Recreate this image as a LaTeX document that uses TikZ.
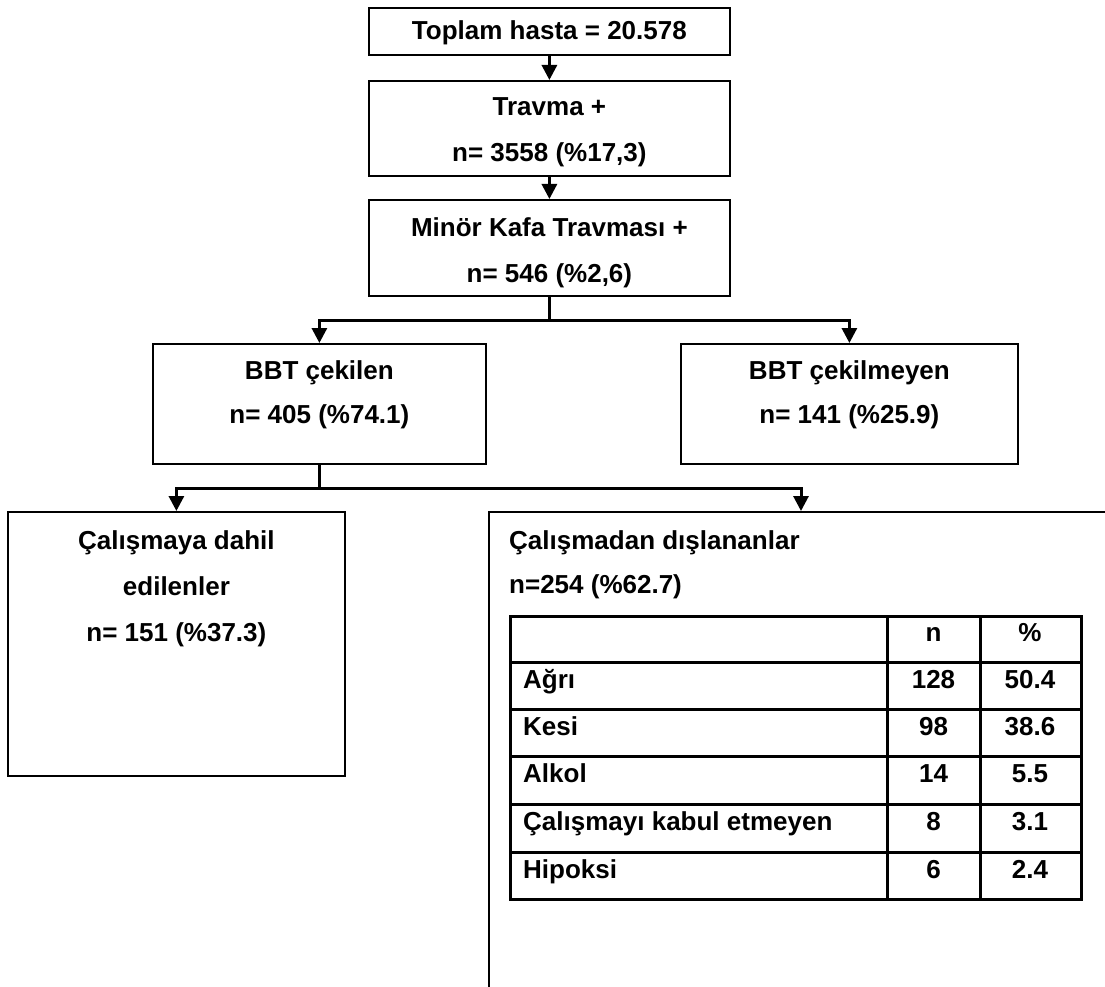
\documentclass[tikz,border=0pt]{standalone}
\usepackage{fontspec}
\setmainfont{Liberation Sans}
\usetikzlibrary{arrows.meta,calc}
\begin{document}
\begin{tikzpicture}[x=1pt,y=-1pt,
  box/.style={draw=black,line width=1.8pt,rectangle,inner sep=0pt,anchor=north west},
  txt/.style={font=\bfseries\fontsize{26}{46}\selectfont,inner sep=0pt,anchor=base},
  ltxt/.style={txt,anchor=base west},
  conn/.style={line width=3pt},
  arr/.style={line width=3pt,-{Triangle[width=15pt,length=15pt]}},
  tgrid/.style={line width=3pt}]
\useasboundingbox (0,0) rectangle (1105,987);
\clip (0,0) rectangle (1105,987);
\fill[white] (0,0) rectangle (1105,987);

% boxes
\node[box,minimum width=361pt,minimum height=47pt] (b1) at (368,7) {};
\node[box,minimum width=361pt,minimum height=95pt] (b2) at (368,80) {};
\node[box,minimum width=361pt,minimum height=96pt] (b3) at (368,199) {};
\node[box,minimum width=333pt,minimum height=120pt] (b4) at (152,343) {};
\node[box,minimum width=337pt,minimum height=120pt] (b5) at (680,343) {};
\node[box,minimum width=337pt,minimum height=264pt] (b6) at (7,511) {};
\node[box,minimum width=700pt,minimum height=600pt] (b7) at (488,511) {};

% box texts
\node[txt] (t1) at ($(b1.north)+(0,33)$) {Toplam hasta = 20.578};
\node[txt] (t2a) at ($(b2.north)+(0,36)$) {Travma +};
\node[txt] (t2b) at ($(b2.north)+(0,82)$) {n= 3558 (\%17,3)};
\node[txt] (t3a) at ($(b3.north)+(0,37)$) {Minör Kafa Travması +};
\node[txt] (t3b) at ($(b3.north)+(0,83)$) {n= 546 (\%2,6)};
\node[txt] (t4a) at ($(b4.north)+(0,36)$) {BBT çekilen};
\node[txt] (t4b) at ($(b4.north)+(0,80)$) {n= 405 (\%74.1)};
\node[txt] (t5a) at ($(b5.north)+(0,36)$) {BBT çekilmeyen};
\node[txt] (t5b) at ($(b5.north)+(0,80)$) {n= 141 (\%25.9)};
\node[txt] (t6a) at ($(b6.north)+(0,38)$) {Çalışmaya dahil};
\node[txt] (t6b) at ($(b6.north)+(0,84)$) {edilenler};
\node[txt] (t6c) at ($(b6.north)+(0,130)$) {n= 151 (\%37.3)};
\node[ltxt] (t7a) at (509,549) {Çalışmadan dışlananlar};
\node[ltxt] (t7b) at (509,593) {n=254 (\%62.7)};

% connectors
\draw[arr] (b1.south) -- (b2.north);
\draw[arr] (b2.south) -- (b3.north);
\draw[conn] (b3.south) -- ++(0,24) coordinate (f1);
\draw[arr] (f1) -| (b4.north);
\draw[arr] (f1) -| (b5.north);
\draw[conn] (b4.south) -- ++(0,24) coordinate (f2);
\coordinate (b7in) at (801,511);
\draw[arr] (f2) -| (b6.north);
\draw[arr] (f2) -| (b7in);

% table
\node[draw=black,line width=3pt,rectangle,inner sep=0pt,anchor=north west,
      minimum width=571pt,minimum height=283pt] (tbl) at (509,615) {};
\foreach \y in {662,709,756,804,852}
  \draw[tgrid] (509,\y) -- (1080,\y);
\draw[tgrid] (887,615) -- (887,898);
\draw[tgrid] (980,615) -- (980,898);

\node[txt] (hn) at (933.5,641) {n};
\node[txt] (hp) at (1030,641) {\%};
\foreach \nm/\lab/\n/\p/\y in {r1/Ağrı/128/50.4/662, r2/Kesi/98/38.6/709, r3/Alkol/14/5.5/756,
    r4/Çalışmayı kabul etmeyen/8/3.1/804, r5/Hipoksi/6/2.4/852}{
  \node[ltxt] (\nm l) at (523,\y+26) {\lab};
  \node[txt] (\nm n) at (933.5,\y+26) {\n};
  \node[txt] (\nm p) at (1030,\y+26) {\p};
}
\end{tikzpicture}
\end{document}
